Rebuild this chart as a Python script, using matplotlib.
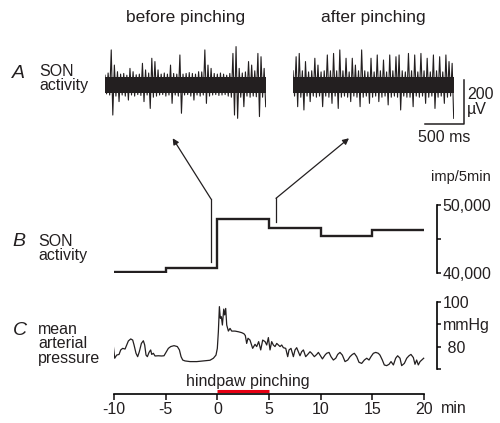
import numpy as np
import matplotlib.pyplot as plt

plt.rcParams['font.family'] = ['Liberation Sans', 'DejaVu Sans']

W, H = 500, 423
INK = '#231f20'

# --- A: SON activity traces (peak / trough per 40 ms bin, uV) ---
bin_ms = 40
core_uv = [-40, 34]  # dense part of the recording band
before_hi = [40, 50, 155, 86, 56, 45, 48, 40, 71, 56, 42, 45, 94, 64, 50, 117,
             102, 64, 45, 50, 45, 86, 48, 45, 132, 45, 48, 52, 48, 45, 56, 55,
             155, 86, 71, 48, 45, 50, 45, 40, 48, 139, 170, 71, 50, 55, 102, 86,
             60, 139, 124, 71]
before_lo = [-45, -50, -141, -55, -80, -50, -55, -73, -50, -55, -48, -52, -80, -50,
             -111, -60, -55, -50, -48, -55, -50, -88, -50, -55, -133, -50, -48, -55,
             -73, -50, -55, -50, -88, -55, -50, -48, -52, -50, -48, -55, -60, -141,
             -156, -60, -103, -55, -60, -55, -58, -148, -60, -103]
after_hi = [60, 124, 139, 60, 102, 55, 60, 117, 86, 55, 60, 132, 60, 139, 60, 155,
            60, 117, 55, 117, 86, 60, 155, 60, 55, 117, 55, 132, 60, 109, 55, 132,
            60, 124, 132, 60, 55, 139, 60, 132, 55, 139, 60, 117, 55, 132, 60, 124,
            55, 132, 102, 94]
after_lo = [-55, -103, -60, -118, -55, -80, -55, -60, -55, -103, -55, -60, -88, -55,
            -111, -60, -55, -60, -80, -55, -60, -103, -60, -55, -88, -60, -55, -80,
            -60, -55, -95, -60, -55, -60, -118, -55, -60, -60, -103, -55, -60, -55,
            -88, -60, -55, -111, -60, -55, -88, -60, -55, -156]

# --- B: SON activity, imp/5min ---
bin_edges = [-10, -5, 0, 5, 10, 15, 20]
son_counts = [40230, 40820, 47950, 46630, 45500, 46340]

# --- C: mean arterial pressure (mmHg) ---
map_t = [-10.06, -9.93, -9.74, -9.51, -9.35, -9.16, -8.93, -8.77, -8.61, -8.38,
         -8.19, -8.06, -7.87, -7.71, -7.55, -7.35, -7.16, -7.03, -6.9, -6.77,
         -6.61, -6.45, -6.35, -6.19, -6.03, -5.71, -5.38, -5.16, -4.97, -4.74,
         -4.51, -4.19, -3.87, -3.67, -3.51, -3.35, -3.13, -2.64, -1.99, -1.35,
         -0.71, -0.38, -0.13, 0.0, 0.1, 0.2, 0.29, 0.39, 0.49, 0.62, 0.71, 0.81,
         0.91, 1.07, 1.23, 1.39, 1.71, 2.04, 2.36, 2.58, 2.71, 2.84, 2.97, 3.16,
         3.42, 3.65, 3.81, 4.0, 4.2, 4.39, 4.62, 4.78, 4.94, 5.10, 5.26, 5.42,
         5.58, 5.75, 5.91, 6.07, 6.23, 6.39, 6.62, 6.81, 6.94, 7.13, 7.36, 7.52,
         7.68, 7.84, 8.0, 8.16, 8.33, 8.55, 8.75, 8.97, 9.13, 9.39, 9.62, 9.78,
         9.94, 10.17, 10.42, 10.58, 10.81, 11.0, 11.23, 11.46, 11.65, 11.87, 12.1,
         12.36, 12.62, 12.84, 13.07, 13.26, 13.49, 13.71, 13.97, 14.23, 14.46,
         14.68, 14.87, 15.1, 15.33, 15.58, 15.74, 15.97, 16.16, 16.39, 16.62,
         16.81, 17.04, 17.26, 17.45, 17.68, 17.84, 18.1, 18.33, 18.55, 18.74,
         18.97, 19.13, 19.29, 19.45, 19.62, 19.78, 19.97]
map_mmhg = [80.0, 74.8, 76.2, 76.5, 78.5, 79.2, 78.9, 80.7, 82.5, 83.4, 82.9, 80.7,
            77.0, 75.5, 77.7, 81.4, 82.6, 80.7, 76.2, 75.5, 77.4, 78.5, 76.5, 77.0,
            75.8, 75.9, 75.8, 75.9, 77.4, 79.2, 80.0, 80.4, 80.0, 78.5, 75.5, 74.0,
            73.6, 73.3, 73.3, 73.6, 73.9, 74.8, 76.2, 79.2, 86.6, 97.8, 92.6, 93.3,
            89.6, 96.7, 94.1, 97.0, 89.6, 86.9, 88.1, 86.9, 86.9, 86.6, 86.2, 85.7,
            84.9, 81.4, 83.7, 82.9, 79.2, 81.0, 80.0, 82.2, 78.5, 82.9, 82.2, 80.7,
            84.0, 78.5, 82.2, 80.7, 80.0, 81.4, 80.7, 80.0, 80.7, 79.5, 79.2, 75.5,
            78.5, 79.2, 75.5, 78.5, 79.5, 77.7, 75.9, 77.7, 78.5, 75.5, 76.5, 77.7,
            77.0, 75.5, 76.5, 77.4, 76.2, 74.5, 76.2, 77.0, 77.4, 75.5, 74.0, 74.8,
            76.5, 77.4, 76.2, 73.3, 74.0, 75.5, 76.5, 77.0, 75.5, 73.0, 72.5, 74.0,
            74.8, 74.0, 75.5, 77.0, 77.4, 77.0, 76.2, 74.0, 71.8, 71.5, 72.1, 73.3,
            71.8, 74.8, 75.9, 74.8, 71.5, 72.5, 74.8, 75.9, 76.5, 75.1, 72.1, 74.0,
            71.8, 73.3, 74.0, 74.8]

time_ticks = [-10, -5, 0, 5, 10, 15, 20]
pinch_window = [0, 5]

# arrows from the B trace up to the A traces (min, imp/5min)
arrow_before = {'x': -0.61, 'y0': 41700, 'y1': 50880, 'tip': (-4.32, 59770)}
arrow_after = {'x': 5.68, 'y0': 47550, 'y1': 50980, 'tip': (12.74, 59770)}


def px_axes(left, top, right, bottom):
    return fig.add_axes([left / W, 1 - bottom / H, (right - left) / W, (bottom - top) / H])


def clear(ax):
    for s in ax.spines.values():
        s.set_visible(False)
    ax.set_xticks([])
    ax.set_yticks([])
    ax.patch.set_alpha(0)


def zigzag(hi, lo):
    t = np.arange(len(hi)) * bin_ms
    tt = np.column_stack([t, t + bin_ms / 2]).ravel()
    vv = np.column_stack([hi, lo]).ravel()
    return tt, vv


fig = plt.figure(figsize=(W / 100, H / 100), dpi=100)

# panel A
ax_a1 = px_axes(105, 40, 265.7, 130)
ax_a2 = px_axes(293, 40, 453.7, 130)
for ax, hi, lo, title in [(ax_a1, before_hi, before_lo, 'before pinching'),
                          (ax_a2, after_hi, after_lo, 'after pinching')]:
    clear(ax)
    tt, vv = zigzag(hi, lo)
    ax.fill_between([tt[0], tt[-1]], core_uv[0], core_uv[1], color=INK, lw=0)
    ax.plot(tt, vv, color=INK, lw=0.8)
    ax.set_xlim(0, 2060)
    ax.set_ylim(-209, 200)
    ax.text(0.5, 1.245, title, transform=ax.transAxes, ha='center', va='center',
            fontsize=12.5, color='#231f20')

# scale bar: 500 ms, 200 uV
sb_x, sb_y = 2192, -182
ax_a2.plot([sb_x - 500, sb_x, sb_x], [sb_y, sb_y, sb_y + 200], color=INK, lw=1.1,
           clip_on=False)
ax_a2.text(sb_x + 40, sb_y + 100, '200\n\u00b5V', ha='left', va='center',
           fontsize=11.5, linespacing=1.0, color=INK)
ax_a2.text(sb_x - 250, sb_y - 25, '500 ms', ha='center', va='top', fontsize=11.5,
           color=INK)

# panel B
ax_b = px_axes(114, 205, 437, 273.3)
clear(ax_b)
ax_b.stairs(son_counts, bin_edges, color=INK, lw=1.7, baseline=None)
ax_b.set_xlim(-10, 21.26)
ax_b.set_ylim(40000, 50000)
ax_b.spines['right'].set_visible(True)
ax_b.spines['right'].set_linewidth(1.2)
ax_b.yaxis.tick_right()
ax_b.set_yticks([40000, 45000, 50000], ['40,000', '', '50,000'])
ax_b.tick_params(axis='y', direction='out', length=3, width=1.2, pad=1,
                 labelsize=11.5, colors=INK)
fig.text(460.5 / W, 1 - 177 / H, 'imp/5min', ha='center', va='center',
         fontsize=10.5, color=INK)
for arr in (arrow_before, arrow_after):
    ax_b.plot([arr['x'], arr['x']], [arr['y0'], arr['y1']], color=INK, lw=0.9,
              clip_on=False)
    ax_b.annotate('', xy=arr['tip'], xytext=(arr['x'], arr['y1']),
                  arrowprops=dict(arrowstyle='-|>', color=INK, lw=0.9,
                                  mutation_scale=9, shrinkA=0, shrinkB=0),
                  annotation_clip=False)

# panel C
ax_c = px_axes(114, 301.7, 437, 369)
clear(ax_c)
ax_c.plot(map_t, map_mmhg, color=INK, lw=0.9)
ax_c.set_xlim(-10, 21.26)
ax_c.set_ylim(70, 100)
ax_c.spines['right'].set_visible(True)
ax_c.spines['right'].set_linewidth(1.2)
ax_c.yaxis.tick_right()
ax_c.set_yticks([70, 80, 90, 100], ['', ' 80', 'mmHg', '100'])
ax_c.tick_params(axis='y', direction='out', length=3, width=1.2, pad=1,
                 labelsize=11.5, colors=INK)

# time axis with pinching bar
ax_t = px_axes(114, 384, 437, 393.6)
clear(ax_t)
ax_t.set_xlim(-10, 21.26)
ax_t.set_ylim(0, 1)
ax_t.spines['bottom'].set_visible(True)
ax_t.spines['bottom'].set_bounds(-10, 20)
ax_t.spines['bottom'].set_linewidth(1.2)
ax_t.set_xticks(time_ticks, [str(v) for v in time_ticks])
ax_t.tick_params(axis='x', direction='out', length=4, width=1.2, pad=2,
                 labelsize=11.5, colors=INK)
ax_t.hlines(0.24, pinch_window[0], pinch_window[1], color='#e60012', lw=2.2)
ax_t.text(2.97, 1.3, 'hindpaw pinching', ha='center', va='center', fontsize=11.5,
          color=INK, transform=ax_t.get_xaxis_transform())
ax_t.text(21.6, -1.55, 'min', ha='left', va='center', fontsize=11.5, color=INK,
          transform=ax_t.get_xaxis_transform())

# panel letters and row labels
def fig_text(x, y, s, **kw):
    fig.text(x / W, 1 - y / H, s, color=INK, **kw)


fig_text(18.5, 73.5, 'A', fontsize=14, style='italic', ha='center', va='center')
fig_text(39, 64, 'SON\nactivity', fontsize=11.5, ha='left', va='top', linespacing=0.9)
fig_text(18.5, 241, 'B', fontsize=14, style='italic', ha='center', va='center')
fig_text(38, 234, 'SON\nactivity', fontsize=11.5, ha='left', va='top', linespacing=0.9)
fig_text(19.5, 330, 'C', fontsize=14, style='italic', ha='center', va='center')
fig_text(38, 322, 'mean\narterial\npressure', fontsize=11.5, ha='left', va='top',
         linespacing=0.95)

fig.savefig('out.png', dpi=100)
